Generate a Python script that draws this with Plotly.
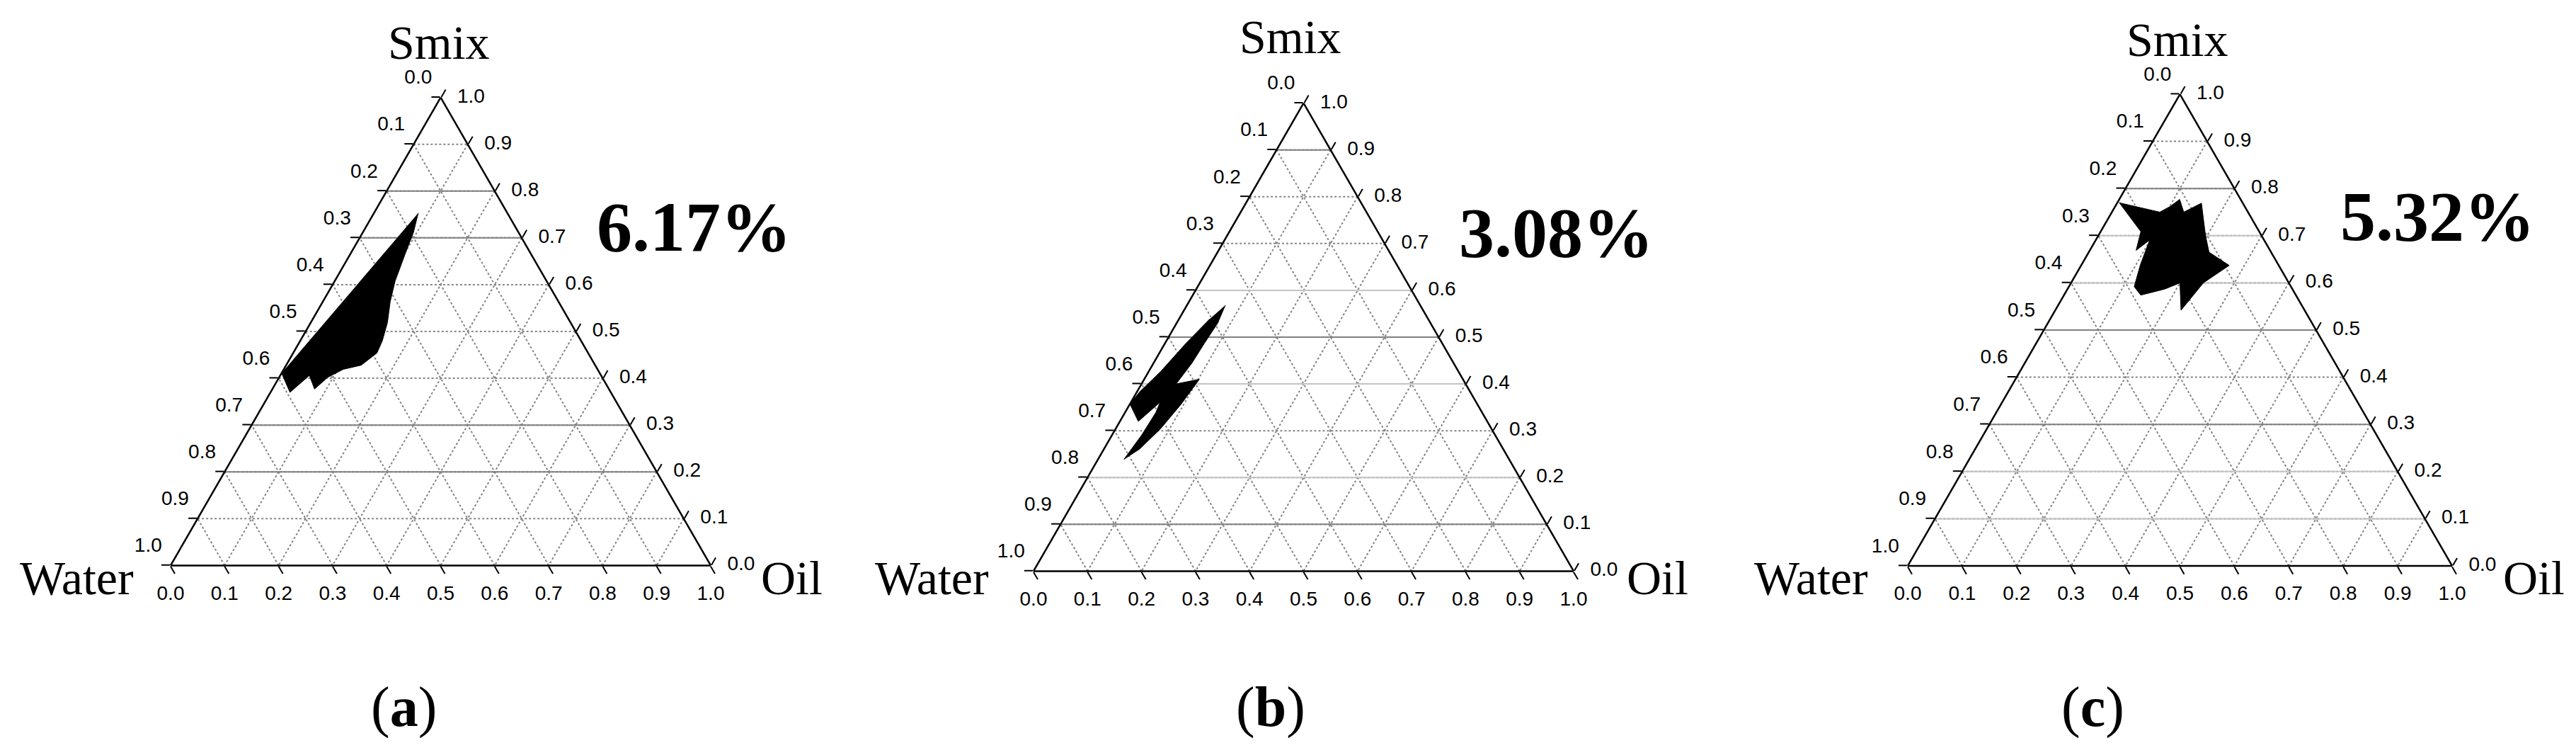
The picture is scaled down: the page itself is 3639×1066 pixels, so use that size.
import plotly.graph_objects as go

W, H = 3639, 1066

# axis ticks (fractions) and the labels printed at them (reference counts the other way round)
TICKS = [0.0, 0.1, 0.2, 0.3, 0.4, 0.5, 0.6, 0.7, 0.8, 0.9, 1.0]
TICK_TEXT = ['1.0', '0.9', '0.8', '0.7', '0.6', '0.5', '0.4', '0.3', '0.2', '0.1', '0.0']

PANEL_LABELS = ['a', 'b', 'c']
AREA_TEXT = ['6.17%', '3.08%', '5.32%']

# microemulsion region outlines, fractions of Water / Oil / Smix
WATER_A = [0.165, 0.195, 0.231, 0.281, 0.312, 0.339, 0.368, 0.391, 0.433, 0.471, 0.508, 0.545, 0.540, 0.594, 0.589]
OIL_A   = [0.082, 0.094, 0.101, 0.112, 0.125, 0.142, 0.152, 0.155, 0.139, 0.110, 0.090, 0.078, 0.054, 0.036, 0.000]
SMIX_A  = [0.753, 0.711, 0.668, 0.607, 0.563, 0.519, 0.480, 0.454, 0.428, 0.419, 0.402, 0.377, 0.406, 0.370, 0.411]

WATER_B = [0.361, 0.394, 0.440, 0.485, 0.536, 0.488, 0.548, 0.613, 0.673, 0.713, 0.654, 0.604, 0.585, 0.646, 0.643, 0.612, 0.552, 0.474, 0.404]
OIL_B   = [0.071, 0.076, 0.073, 0.071, 0.064, 0.102, 0.095, 0.083, 0.066, 0.048, 0.055, 0.057, 0.054, 0.034, 0.000, 0.005, 0.022, 0.039, 0.057]
SMIX_B  = [0.568, 0.530, 0.487, 0.444, 0.400, 0.410, 0.357, 0.304, 0.261, 0.239, 0.291, 0.339, 0.361, 0.320, 0.357, 0.383, 0.426, 0.487, 0.539]

WATER_C = [0.227, 0.162, 0.137, 0.112, 0.118, 0.076, 0.103, 0.114, 0.091, 0.157, 0.227, 0.200, 0.234, 0.285, 0.288, 0.253, 0.210, 0.246, 0.218]
OIL_C   = [0.003, 0.088, 0.101, 0.111, 0.132, 0.155, 0.197, 0.221, 0.272, 0.243, 0.231, 0.200, 0.179, 0.141, 0.120, 0.108, 0.099, 0.085, 0.074]
SMIX_C  = [0.770, 0.750, 0.762, 0.777, 0.750, 0.769, 0.700, 0.665, 0.637, 0.600, 0.542, 0.600, 0.587, 0.574, 0.592, 0.639, 0.691, 0.669, 0.708]

# Smix levels whose grid line shows up solid in the scan
DARK_LINES = [[0.8, 0.7, 0.3, 0.2], [0.9, 0.5, 0.1], [0.8, 0.5, 0.3]]
LIGHT_LINES = [[], [0.6, 0.4, 0.2], [0.7, 0.6, 0.2, 0.1]]

regions = [(WATER_A, OIL_A, SMIX_A), (WATER_B, OIL_B, SMIX_B), (WATER_C, OIL_C, SMIX_C)]

# triangle placement in pixels: left corner x, right corner x, vertical centre
BOXES = [(233, 996, 460), (1452, 2215, 468), (2687, 3456, 458)]


def px(x):
    return x / W


def py(y):
    return 1 - y / H


axis = dict(
    tickmode='array', tickvals=TICKS, showticklabels=False,
    ticks='outside', ticklen=12, tickwidth=2, tickcolor='black',
    showline=True, linecolor='black', linewidth=2.5,
    showgrid=True, gridcolor='#858585', gridwidth=1.5, griddash='dot',
    title=dict(text=''),
)

tick_font = dict(family='Liberation Sans', size=28, color='black')
ones = [1 - v for v in TICKS]
zeros = [0] * len(TICKS)
# (a, b, c, textposition, invisible marker size used as label offset)
edges = [
    (TICKS, ones, zeros, 'top left', 18),       # left edge (Water scale)
    (zeros, TICKS, ones, 'bottom center', 42),  # bottom edge (Oil scale)
    (ones, zeros, TICKS, 'middle right', 36),   # right edge (Smix scale)
]

fig = go.Figure()
layout = {}
for i, (water, oil, smix) in enumerate(regions):
    name = 'ternary' if i == 0 else f'ternary{i + 1}'
    left, right, cy = BOXES[i]
    layout[name] = dict(
        sum=1, bgcolor='white',
        domain=dict(x=[px(left), px(right)], y=[py(cy + 370), py(cy - 370)]),
        aaxis=axis, baxis=axis, caxis=axis,
    )
    for lv, col in [(v, '#808080') for v in DARK_LINES[i]] + [(v, '#c4c4c4') for v in LIGHT_LINES[i]]:
        fig.add_trace(go.Scatterternary(
            a=[lv, lv], b=[1 - lv, 0], c=[0, 1 - lv], mode='lines', subplot=name,
            line=dict(color=col, width=2), hoverinfo='skip', showlegend=False))
    fig.add_trace(go.Scatterternary(
        a=smix, b=water, c=oil, mode='lines', fill='toself', subplot=name,
        fillcolor='black', line=dict(color='black', width=1), showlegend=False))
    for a, b, c, pos, msize in edges:
        fig.add_trace(go.Scatterternary(
            a=a, b=b, c=c, mode='markers+text', text=TICK_TEXT, textposition=pos,
            textfont=tick_font, marker=dict(size=msize, opacity=0), cliponaxis=False,
            subplot=name, hoverinfo='skip', showlegend=False))

ann = []
SMIX_POS = [(612, 52), (1815, 44), (3068, 48)]
WATER_RIGHT = [183, 1391, 2633]
OIL_LEFT = [1065, 2288, 3526]
AREA_POS = [(972, 313), (2190, 320), (3435, 297)]
LABEL_X = [562, 1787, 2948]
serif = 'Liberation Serif'
for i in range(3):
    ann.append(dict(x=px(SMIX_POS[i][0]), y=py(SMIX_POS[i][1]), text='Smix', showarrow=False,
                    xanchor='center', yanchor='middle', font=dict(family=serif, size=68, color='black')))
    ann.append(dict(x=px(WATER_RIGHT[i]), y=py(808), text='Water', showarrow=False,
                    xanchor='right', yanchor='middle', font=dict(family=serif, size=68, color='black')))
    ann.append(dict(x=px(OIL_LEFT[i]), y=py(808), text='Oil', showarrow=False,
                    xanchor='left', yanchor='middle', font=dict(family=serif, size=68, color='black')))
    ann.append(dict(x=px(AREA_POS[i][0]), y=py(AREA_POS[i][1]), text='<b>' + AREA_TEXT[i] + '</b>',
                    showarrow=False, xanchor='center', yanchor='middle',
                    font=dict(family=serif, size=100, color='black')))
    ann.append(dict(x=px(LABEL_X[i]), y=py(990), text='(<b>' + PANEL_LABELS[i] + '</b>)', showarrow=False,
                    xanchor='center', yanchor='middle', font=dict(family=serif, size=80, color='black')))

fig.update_layout(
    width=W, height=H, autosize=False,
    margin=dict(l=0, r=0, t=0, b=0),
    paper_bgcolor='white', plot_bgcolor='white',
    font=dict(family='Liberation Sans', size=28, color='black'),
    showlegend=False, annotations=ann, **layout)

fig.write_html('out.html')
